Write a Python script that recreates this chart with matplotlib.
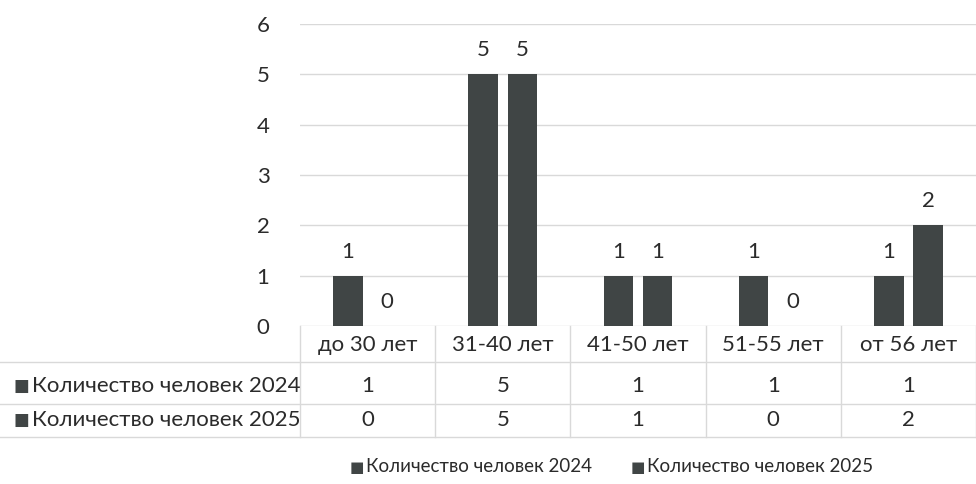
import numpy as np
import matplotlib.pyplot as plt

plt.rcParams['font.family'] = ['Lato', 'DejaVu Sans']

categories = ['до 30 лет', '31-40 лет', '41-50 лет', '51-55 лет', 'от 56 лет']
series_names = ['Количество человек 2024', 'Количество человек 2025']
values_2024 = [1, 5, 1, 1, 1]
values_2025 = [0, 5, 1, 0, 2]
yticks = [0, 1, 2, 3, 4, 5, 6]

bar_color = '#404545'
grid_color = '#d9d9d9'
text_color = '#2b2b2b'
fs = 16

W, H = 976, 484
fig = plt.figure(figsize=(W / 100, H / 100), dpi=100)
ax = fig.add_axes([300 / W, (H - 326) / H, 676 / W, 302 / H])

x = np.arange(len(categories))
bw = 0.22
off = 0.145
b1 = ax.bar(x - off, values_2024, width=bw, color=bar_color, zorder=3)
b2 = ax.bar(x + off, values_2025, width=bw, color=bar_color, zorder=3)
for bars in (b1, b2):
    ax.bar_label(bars, padding=10, fontsize=fs, color=text_color)

ax.set_xlim(-0.5, len(categories) - 0.5)
ax.set_ylim(0, 6)
ax.set_yticks(yticks)
ax.set_yticklabels([str(t) for t in yticks], fontsize=fs, color=text_color)
ax.tick_params(axis='y', length=0, pad=22)
ax.set_xticks([])
ax.grid(axis='y', color=grid_color, linewidth=1, zorder=0)
for s in ax.spines.values():
    s.set_visible(False)

# data table under the chart (pixel -> axes fraction helpers)
def fy(py):
    return (326 - py) / 302

trans = ax.get_xaxis_transform()
row_y = [345, 386, 420]
line_y = [362, 404, 437]
for ly in line_y:
    ax.plot([-0.5 - 300 / 135.2, len(categories) - 0.5], [fy(ly)] * 2, transform=trans,
            color=grid_color, lw=1, clip_on=False)
for i in range(len(categories) + 1):
    ax.plot([i - 0.5] * 2, [fy(326), fy(437)], transform=trans,
            color=grid_color, lw=1, clip_on=False)

for i, c in enumerate(categories):
    ax.text(i, fy(row_y[0]), c, transform=trans, ha='center', va='center',
            fontsize=fs, color=text_color, clip_on=False)
    ax.text(i, fy(row_y[1]), str(values_2024[i]), transform=trans, ha='center',
            va='center', fontsize=fs, color=text_color, clip_on=False)
    ax.text(i, fy(row_y[2]), str(values_2025[i]), transform=trans, ha='center',
            va='center', fontsize=fs, color=text_color, clip_on=False)

for name, ry in zip(series_names, row_y[1:]):
    fig.text(21 / W, (H - ry) / H, '■', ha='center', va='center', fontsize=12,
             color=bar_color, family='DejaVu Sans')
    fig.text(32 / W, (H - ry) / H, name, ha='left', va='center', fontsize=fs,
             color=text_color)

# legend
for name, lx in zip(series_names, [357, 638]):
    fig.text(lx / W, (H - 467) / H, '■', ha='center', va='center', fontsize=11,
             color=bar_color, family='DejaVu Sans')
    fig.text((lx + 9) / W, (H - 467) / H, name, ha='left', va='center',
             fontsize=13.5, color=text_color)

fig.savefig('out.png', dpi=100)
